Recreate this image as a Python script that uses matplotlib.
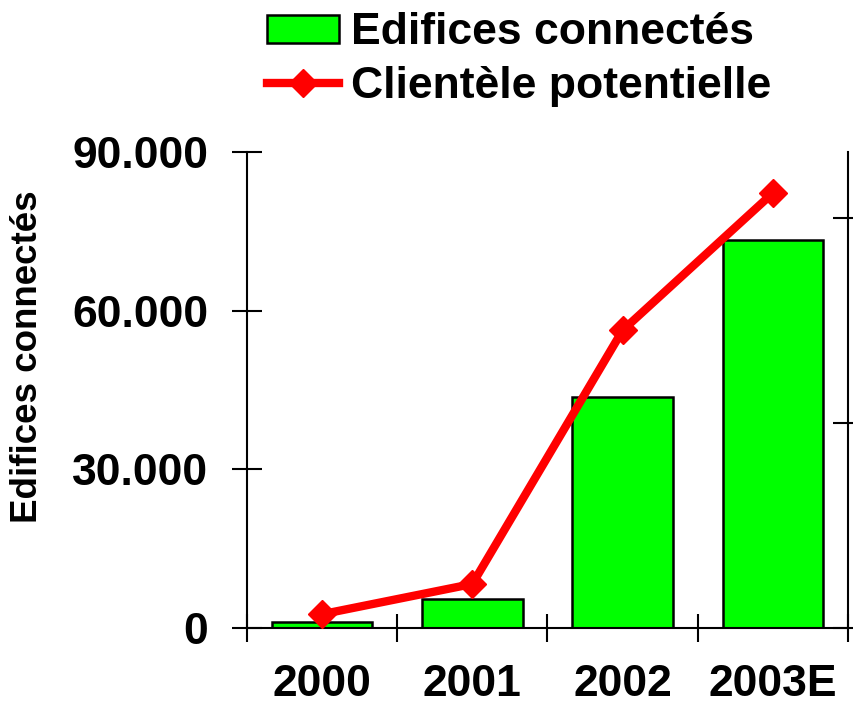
import matplotlib.pyplot as plt
from matplotlib import font_manager
from matplotlib.ticker import FixedLocator, NullFormatter

years = ['2000', '2001', '2002', '2003E']
edifices = [1100, 5500, 43700, 73400]
clientele = [2700, 8600, 58100, 84900]

y_ticks = [0, 30000, 60000, 90000]
y_labels = ['0', '30.000', '60.000', '90.000']
right_ticks = [0, 40000, 80000]

plt.rcParams['font.family'] = ['Liberation Sans', 'DejaVu Sans']
plt.rcParams['font.weight'] = 'bold'

names = {f.name for f in font_manager.fontManager.ttflist}
if 'Liberation Sans Narrow' in names:
    ylab_font = dict(family=['Liberation Sans Narrow', 'DejaVu Sans'], fontsize=31)
else:
    ylab_font = dict(family=['Liberation Sans', 'DejaVu Sans'], fontsize=26.5)

fig = plt.figure(figsize=(8.54, 7.17), dpi=100)
ax = fig.add_axes([0.2892, 0.1241, 0.7038, 0.6639])

x = list(range(len(years)))
bars = ax.bar(x, edifices, width=0.67, color='#00ff00', edgecolor='black',
              linewidth=1.8, label='Edifices connectés', zorder=2)
ax.set_xlim(-0.5, 3.5)
ax.set_ylim(0, 90000)

ax.set_yticks(y_ticks)
ax.set_yticklabels(y_labels, fontsize=32, fontweight='bold')
ax.tick_params(axis='y', direction='inout', length=21.6, width=1.5, pad=17)

ax.set_xticks(x)
ax.set_xticklabels(years, fontsize=32, fontweight='bold')
ax.tick_params(axis='x', which='major', length=0, pad=26)
ax.xaxis.set_minor_locator(FixedLocator([-0.5, 0.5, 1.5, 2.5, 3.5]))
ax.xaxis.set_minor_formatter(NullFormatter())
ax.tick_params(axis='x', which='minor', direction='inout', length=20, width=1.5)

ax.spines['top'].set_visible(False)
ax.spines['right'].set_visible(False)
for s in ['left', 'bottom']:
    ax.spines[s].set_linewidth(1.5)

ax2 = ax.twinx()
ax2.set_ylim(0, 92900)
line, = ax2.plot(x, clientele, color='red', linewidth=6, marker='D',
                 markersize=14, markeredgecolor='red', label='Clientèle potentielle',
                 zorder=3)
ax2.set_yticks(right_ticks)
ax2.yaxis.set_major_formatter(NullFormatter())
ax2.tick_params(axis='y', direction='inout', length=21.6, width=1.5)
ax2.spines['top'].set_visible(False)
ax2.spines['left'].set_visible(False)
ax2.spines['bottom'].set_visible(False)
ax2.spines['right'].set_linewidth(1.5)

fig.text(28 / 854, 0.502, 'Edifices connectés', rotation=90, ha='center',
         va='center', fontweight='bold', **ylab_font)

fig.legend(handles=[bars, line], loc='upper left',
           bbox_to_anchor=(263 / 854, 0.9888), frameon=False, fontsize=32,
           handlelength=1.62, handleheight=0.61, handletextpad=0.27,
           labelspacing=0.28, borderaxespad=0.0, borderpad=0.1)

fig.savefig('out.png', dpi=100)
